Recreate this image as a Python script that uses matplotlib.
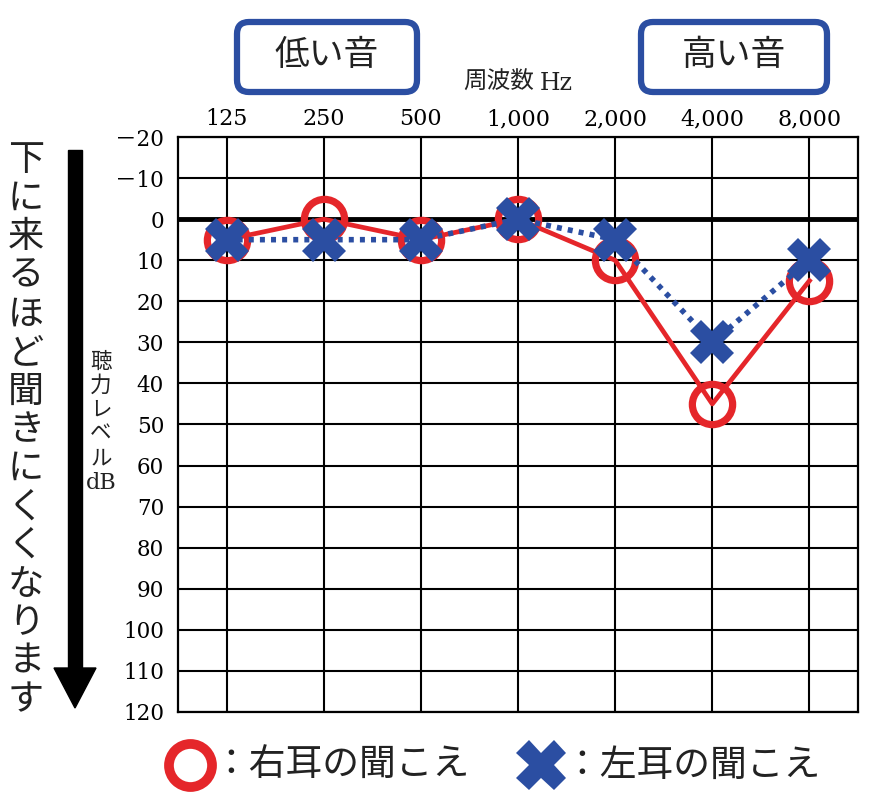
import matplotlib.pyplot as plt
from matplotlib.patches import FancyBboxPatch, Polygon, Rectangle

plt.rcParams['font.family'] = ['Noto Sans CJK JP', 'DejaVu Sans']

# audiogram values (dB HL)
freq_labels = ['125', '250', '500', '1,000', '2,000', '4,000', '8,000']
right_ear = [5, 0, 5, 0, 10, 45, 15]
left_ear = [5, 5, 5, 0, 5, 30, 10]
db_ticks = list(range(-20, 121, 10))
db_labels = ['－' + str(-v) if v < 0 else str(v) for v in db_ticks]

RED = '#e5262a'
BLUE = '#2b4ea2'
W, H = 875, 800

fig = plt.figure(figsize=(W / 100, H / 100), dpi=100)

# main audiogram axes
ax = fig.add_axes([178 / W, (H - 712) / H, 680 / W, 575 / H])
xs = list(range(len(freq_labels)))
ax.set_xlim(-0.5, len(freq_labels) - 0.5)
ax.set_ylim(120, -20)
ax.set_xticks(xs)
ax.set_xticklabels(freq_labels, family=['DejaVu Serif'], fontsize=16)
ax.xaxis.tick_top()
ax.set_yticks(db_ticks)
ax.set_yticklabels(db_labels, family=['DejaVu Serif', 'Noto Sans CJK JP'], fontsize=15.5)
ax.tick_params(length=0)
ax.tick_params(axis='y', pad=10)
ax.tick_params(axis='x', pad=5)
ax.grid(True, color='black', linewidth=1.5)
for s in ax.spines.values():
    s.set_linewidth(1.6)
ax.axhline(0, color='black', linewidth=3.5, zorder=2)

ax.plot(xs, right_ear, color=RED, linewidth=3.4, zorder=3)
ax.plot(xs, right_ear, linestyle='none', marker='o', markersize=29,
        markerfacecolor='none', markeredgecolor=RED, markeredgewidth=5.2, zorder=4)
ax.plot(xs, left_ear, color=BLUE, linewidth=4, linestyle=(0, (0.9, 1.1)), zorder=5)
ax.plot(xs, left_ear, linestyle='none', marker='X', markersize=31,
        color=BLUE, markeredgewidth=0, zorder=6)

# overlay in pixel coordinates for annotations
ov = fig.add_axes([0, 0, 1, 1], zorder=-1)
ov.set_xlim(0, W)
ov.set_ylim(H, 0)
ov.axis('off')

for (x0, x1, label) in [(237, 417, '低い音'), (641, 827, '高い音')]:
    box = FancyBboxPatch((x0, 22), x1 - x0, 70, boxstyle='round,pad=0,rounding_size=12',
                         facecolor='white', edgecolor=BLUE, linewidth=4.5)
    ov.add_patch(box)
    ov.text((x0 + x1) / 2, 56, label, ha='center', va='center', fontsize=25, color='#222222')

ov.text(534, 82, '周波数', ha='right', va='center', fontsize=17, color='#222222')
ov.text(540, 83, 'Hz', ha='left', va='center', fontsize=17, family=['DejaVu Serif'], color='#222222')

# vertical y-axis label
for i, ch in enumerate('聴力レベル'):
    ov.text(101, 362 + i * 24, ch, ha='center', va='center', fontsize=15.5, color='#222222')
ov.text(101, 483, 'dB', ha='center', va='center', fontsize=16, family=['DejaVu Serif'], color='#222222')

# big arrow
ov.add_patch(Rectangle((68, 150), 14, 520, color='black'))
ov.add_patch(Polygon([(54, 668), (96, 668), (75, 708)], closed=True, color='black'))

# left vertical note
for i, ch in enumerate('下に来るほど聞きにくくなります'):
    ov.text(26, 160 + i * 38.6, ch, ha='center', va='center', fontsize=26, color='#222222')

# legend
ov.plot([190], [765], marker='o', markersize=31, markerfacecolor='none',
        markeredgecolor=RED, markeredgewidth=7)
ov.text(212, 765, '：右耳の聞こえ', ha='left', va='center', fontsize=26.5, color='#222222')
ov.plot([541], [765], marker='X', markersize=36, color=BLUE, markeredgewidth=0)
ov.text(563, 765, '：左耳の聞こえ', ha='left', va='center', fontsize=26.5, color='#222222')

fig.savefig('out.png', dpi=100)
